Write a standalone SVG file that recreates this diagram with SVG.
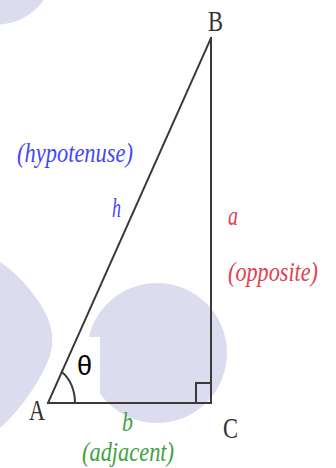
<svg xmlns="http://www.w3.org/2000/svg" width="336" height="468" viewBox="0 0 336 468">
<style>
.blob{fill:#dcdcef;stroke:none}
.side{stroke:#3a3a3a;stroke-width:2;fill:none;stroke-linecap:square}
.vtx{font-family:"Liberation Serif","Times New Roman",serif;font-size:29px;fill:#333}
.lbl{font-family:"Liberation Serif","Times New Roman",serif;font-style:italic;font-size:27px}
.blue{fill:#4646f5}
.red{fill:#e0414f}
.green{fill:#3fa23f}
.theta{font-family:"Liberation Sans",Arial,sans-serif;font-size:27px;fill:#000}
</style>
<rect width="336" height="468" fill="#fff"/>
<g id="background">
<circle class="blob" cx="-5" cy="-35" r="60"/>
<path class="blob" d="M0,262 C18,274 36,294 47,316 Q56,336 50,356 C40,382 22,408 0,428 Z"/>
<circle class="blob" cx="157" cy="353" r="70"/>
<rect x="62" y="337" width="38" height="58" fill="#fff"/>
</g>
<g id="connectors">
<line class="side" x1="48" y1="403" x2="211" y2="38"/>
<line class="side" x1="211" y1="38" x2="211" y2="403"/>
<line class="side" x1="48" y1="403" x2="211" y2="403"/>
<rect class="side" x="196" y="383" width="15" height="20"/>
<path class="side" d="M75,403 A27,36 0 0 0 61.8,372"/>
</g>
<g id="node-A"><text class="vtx" x="29" y="420" textLength="16" lengthAdjust="spacingAndGlyphs">A</text></g>
<g id="node-B"><text class="vtx" x="208" y="31" textLength="15" lengthAdjust="spacingAndGlyphs">B</text></g>
<g id="node-C"><text class="vtx" x="223" y="438" textLength="15" lengthAdjust="spacingAndGlyphs">C</text></g>
<g id="angle-theta"><text class="theta" x="77" y="375">θ</text></g>
<g id="hypotenuse">
<text class="lbl blue" x="17" y="162" textLength="116" lengthAdjust="spacingAndGlyphs">(hypotenuse)</text>
<text class="lbl blue" x="112" y="217" textLength="9" lengthAdjust="spacingAndGlyphs">h</text>
</g>
<g id="opposite">
<text class="lbl red" x="228" y="225" textLength="10" lengthAdjust="spacingAndGlyphs">a</text>
<text class="lbl red" x="228" y="281" textLength="90" lengthAdjust="spacingAndGlyphs">(opposite)</text>
</g>
<g id="adjacent">
<text class="lbl green" x="122" y="431" textLength="11" lengthAdjust="spacingAndGlyphs">b</text>
<text class="lbl green" x="82" y="461" textLength="92" lengthAdjust="spacingAndGlyphs">(adjacent)</text>
</g>
</svg>
